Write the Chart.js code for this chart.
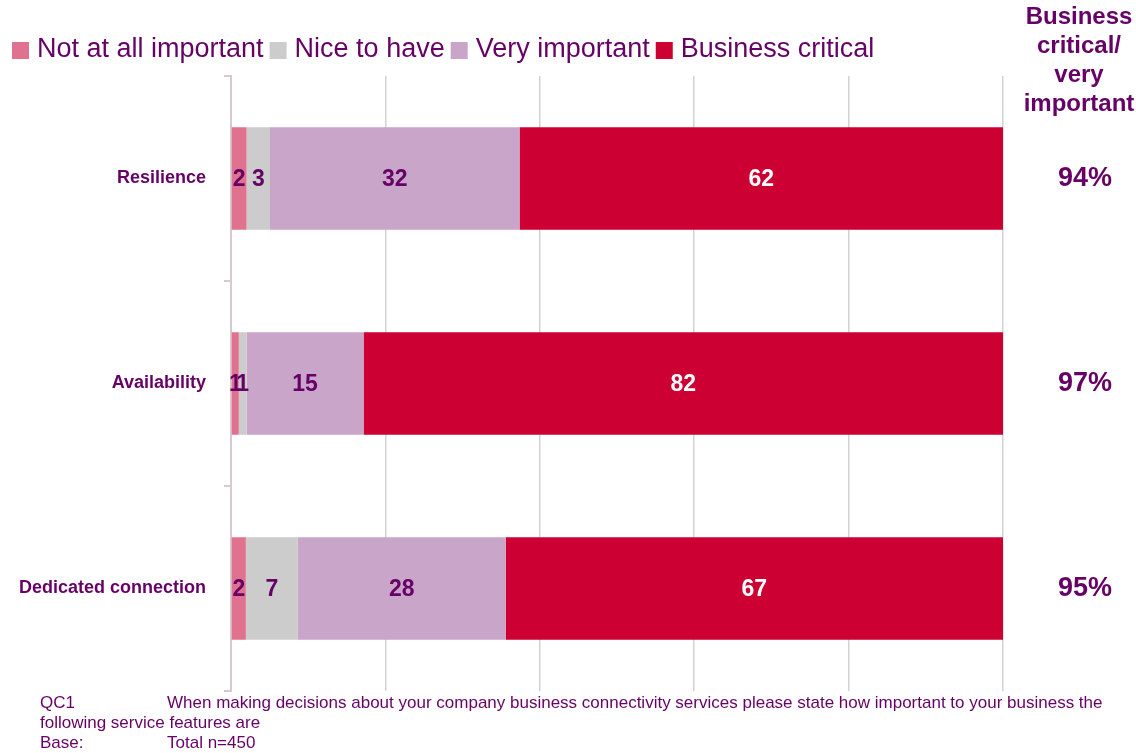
<!DOCTYPE html>
<html>
<head>
<meta charset="utf-8">
<title>Service feature importance</title>
<script src="https://cdn.jsdelivr.net/npm/chart.js@4.4.1/dist/chart.umd.min.js"></script>
<style>
  html, body { margin: 0; padding: 0; background: #ffffff; }
  #wrap { width: 1136px; height: 753px; position: relative; }
</style>
</head>
<body>
<div id="wrap"><canvas id="importance_chart" width="1136" height="753"></canvas></div>
<script>
// survey answers, one value per feature
const categories = ["Resilience", "Availability", "Dedicated connection"];
const seriesNames = ["Not at all important", "Nice to have", "Very important", "Business critical"];
const notImportant = [2, 1, 2];
const niceToHave = [3, 1, 7];
const veryImportant = [32, 15, 28];
const businessCritical = [62, 82, 67];
const xTicks = [0, 20, 40, 60, 80, 100];

const headerLines = ["Business", "critical/", "very", "important"];
const noteQuestion = "When making decisions about your company business connectivity services please state how important to your business the";
const noteQuestion2 = "following service features are";
const noteBase = "Total n=450";

const PURPLE = "#660066";
const FONT = "'Liberation Sans', Arial, Helvetica, sans-serif";
const colours = ["#e0718f", "#cccccc", "#c9a5c9", "#cc0033"];

// bars are 100% stacked, so each row is scaled by its own total
const rawSeries = [notImportant, niceToHave, veryImportant, businessCritical];
const rowTotals = categories.map((c, i) => rawSeries.reduce((s, arr) => s + arr[i], 0));
const topTwo = categories.map((c, i) => veryImportant[i] + businessCritical[i]);

const datasets = rawSeries.map((arr, k) => ({
  label: seriesNames[k],
  raw: arr,
  data: arr.map((v, i) => v / rowTotals[i] * 100),
  backgroundColor: colours[k],
  borderWidth: 0,
  categoryPercentage: 1.0,
  barPercentage: 0.5
}));

const legendPlugin = {
  id: "topLegend",
  afterDraw(chart) {
    const ctx = chart.ctx;
    ctx.save();
    ctx.font = "27px " + FONT;
    ctx.textBaseline = "middle";
    ctx.textAlign = "left";
    let x = 12;
    chart.data.datasets.forEach((ds) => {
      ctx.fillStyle = ds.backgroundColor;
      ctx.fillRect(x, 42, 17, 17);
      ctx.fillStyle = PURPLE;
      ctx.fillText(ds.label, x + 25, 50);
      x += 25 + ctx.measureText(ds.label).width + 6;
    });
    ctx.restore();
  }
};

const valueLabels = {
  id: "valueLabels",
  afterDatasetsDraw(chart) {
    const ctx = chart.ctx;
    ctx.save();
    ctx.font = "bold 23px " + FONT;
    ctx.textAlign = "center";
    ctx.textBaseline = "middle";
    chart.data.datasets.forEach((ds, k) => {
      const meta = chart.getDatasetMeta(k);
      meta.data.forEach((bar, i) => {
        ctx.fillStyle = k === 3 ? "#ffffff" : PURPLE;
        ctx.fillText(String(ds.raw[i]), (bar.x + bar.base) / 2, bar.y + 1);
      });
    });
    ctx.restore();
  }
};

const sideColumn = {
  id: "sideColumn",
  afterDraw(chart) {
    const ctx = chart.ctx;
    const yScale = chart.scales.y;
    ctx.save();
    ctx.fillStyle = PURPLE;
    ctx.textAlign = "center";
    ctx.textBaseline = "middle";
    ctx.font = "bold 24px " + FONT;
    headerLines.forEach((line, i) => {
      ctx.fillText(line, 1079, 17 + i * 29);
    });
    ctx.font = "bold 27px " + FONT;
    topTwo.forEach((v, i) => {
      ctx.fillText(v + "%", 1085, yScale.getPixelForValue(i));
    });
    ctx.restore();
  }
};

const footnote = {
  id: "footnote",
  afterDraw(chart) {
    const ctx = chart.ctx;
    ctx.save();
    ctx.fillStyle = PURPLE;
    ctx.font = "17px " + FONT;
    ctx.textAlign = "left";
    ctx.textBaseline = "middle";
    ctx.fillText("QC1", 40, 703);
    ctx.fillText(noteQuestion, 167, 703, 941);
    ctx.fillText(noteQuestion2, 40, 723);
    ctx.fillText("Base:", 40, 743);
    ctx.fillText(noteBase, 167, 743);
    ctx.restore();
  }
};

const importance_ctx = document.getElementById("importance_chart").getContext("2d");
const importanceChart = new Chart(importance_ctx, {
  type: "bar",
  data: { labels: categories, datasets: datasets },
  options: {
    indexAxis: "y",
    responsive: false,
    animation: false,
    devicePixelRatio: 1,
    layout: { padding: { left: 0, right: 133, top: 76, bottom: 62 } },
    plugins: {
      legend: { display: false },
      tooltip: { enabled: false }
    },
    scales: {
      x: {
        stacked: true,
        min: xTicks[0],
        max: xTicks[xTicks.length - 1],
        afterBuildTicks: (scale) => { scale.ticks = xTicks.map((v) => ({ value: v })); },
        afterFit: (scale) => { scale.height = 0; },
        ticks: { display: false },
        border: { display: false },
        grid: {
          drawTicks: false,
          lineWidth: 1.5,
          color: (c) => (c.tick && c.tick.value === 0 ? "rgba(0,0,0,0)" : "#d2d2d2")
        }
      },
      y: {
        stacked: true,
        afterFit: (scale) => { scale.width = 231; },
        ticks: {
          color: PURPLE,
          font: { family: FONT, size: 18, weight: "bold" },
          padding: 18
        },
        border: { display: true, color: "#d9c8cf", width: 2 },
        grid: {
          drawOnChartArea: false,
          tickLength: 7,
          color: "#d9c8cf",
          lineWidth: 2
        }
      }
    }
  },
  plugins: [legendPlugin, valueLabels, sideColumn, footnote]
});
</script>
</body>
</html>
